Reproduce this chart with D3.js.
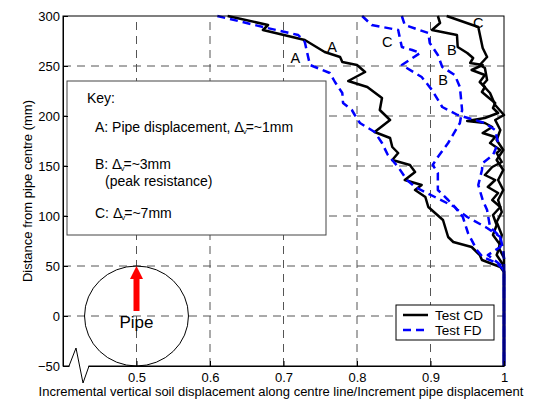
<!DOCTYPE html>
<html><head><meta charset="utf-8">
<script src="https://cdn.jsdelivr.net/npm/d3@7"></script>
<style>body{margin:0;background:#fff}svg{display:block;font-family:"Liberation Sans",Arial,sans-serif}</style>
</head><body><svg id="c" width="535" height="400"></svg>
<script>
// ---- data (x = incremental displacement ratio, y = distance from pipe centre, mm)
const xTicks = [0.5, 0.6, 0.7, 0.8, 0.9, 1];
const yTicks = [-50, 0, 50, 100, 150, 200, 250, 300];
const xGrid = [0.5, 0.6, 0.7, 0.8, 0.9];
const yGrid = [0, 50, 100, 150, 200, 250];

const cdA = [[0.624,300],[0.679,291],[0.672,286],[0.729,276],[0.756,264],[0.777,259],[0.780,254],[0.800,251],[0.811,244],[0.788,235],[0.814,229],[0.834,218],[0.831,206],[0.845,196],[0.824,184],[0.845,178],[0.848,169],[0.856,163],[0.848,156],[0.872,151],[0.879,144],[0.865,136],[0.888,131],[0.879,126],[0.893,119],[0.897,109],[0.917,96],[0.924,79],[0.931,74],[0.956,69],[0.967,61],[0.970,56],[0.995,49],[1.0,44],[1.0,-50]];
const fdA = [[0.610,300],[0.678,288],[0.720,281],[0.729,274],[0.732,264],[0.736,251],[0.763,243],[0.770,234],[0.780,223],[0.781,213],[0.793,206],[0.797,201],[0.804,193],[0.824,184],[0.834,173],[0.842,161],[0.856,149],[0.868,136],[0.879,129],[0.906,119],[0.933,109],[0.944,99],[0.951,83],[0.963,66],[0.971,59],[0.990,53],[1.0,46],[1.0,-50]];
const cdB = [[0.910,300],[0.913,293],[0.902,286],[0.936,281],[0.937,269],[0.950,263],[0.958,258],[0.954,253],[0.971,251],[0.956,246],[0.974,241],[0.967,234],[0.974,229],[0.970,224],[0.978,219],[0.988,213],[0.985,208],[0.992,203],[0.974,198],[0.950,195],[0.974,193],[0.984,189],[0.971,183],[0.988,179],[0.981,173],[0.995,166],[0.990,163],[0.997,154],[0.984,149],[0.974,141],[0.988,136],[0.978,129],[0.992,123],[0.984,116],[0.995,109],[0.985,101],[0.990,91],[0.985,81],[0.995,71],[0.990,61],[0.999,51],[1.0,44],[1.0,-50]];
const fdB = [[0.861,300],[0.865,291],[0.897,283],[0.899,273],[0.910,261],[0.916,249],[0.933,241],[0.940,229],[0.943,206],[0.940,193],[0.924,173],[0.910,159],[0.903,151],[0.910,143],[0.910,126],[0.924,116],[0.937,106],[0.950,99],[0.977,88],[0.995,79],[0.995,69],[0.978,61],[0.999,49],[1.0,44],[1.0,-50]];
const cdC = [[0.922,300],[0.965,289],[0.971,268],[0.977,259],[0.967,251],[0.974,248],[0.977,236],[0.971,231],[0.981,223],[0.988,211],[1.0,201],[0.988,196],[0.995,186],[0.990,176],[0.999,166],[0.990,156],[0.999,146],[0.992,136],[0.999,126],[0.992,116],[0.997,104],[0.990,94],[0.997,81],[0.993,68],[1.0,58],[1.0,-50]];
const fdC = [[0.807,300],[0.820,291],[0.856,286],[0.861,269],[0.875,266],[0.886,263],[0.861,251],[0.888,239],[0.902,226],[0.916,209],[0.937,201],[0.951,198],[0.974,193],[0.988,186],[0.992,173],[0.985,161],[0.971,153],[0.970,146],[0.965,131],[0.971,116],[0.977,106],[0.981,89],[0.995,79],[0.999,66],[1.0,58],[1.0,-50]];

const curveLabels = [
  {t:"A", x:0.766, y:269}, {t:"A", x:0.716, y:258},
  {t:"C", x:0.841, y:274}, {t:"B", x:0.929, y:266},
  {t:"B", x:0.917, y:236}, {t:"C", x:0.965, y:293}
];
const legendNames = ["Test CD", "Test FD"];
const keyLines = ["Key:", "A: Pipe displacement, ", "B: ", "(peak resistance)", "C: "];
const pipeCentre = [0.5, 0];
const pipeRadius = 50;         // mm
const pipeHalfWidth = 0.0707;  // in x units
const arrowFrom = 5, arrowTo = 50;

// ---- chart
const svg = d3.select("#c");
const W = 535, H = 400;
const m = {l:63, r:31, t:16, b:34};
const x = d3.scaleLinear().domain([0.4, 1]).range([m.l, W - m.r]);
const y = d3.scaleLinear().domain([-50, 300]).range([H - m.b, m.t]);
const FONT = "13px";
const KFONT = "14px";

// grid
const grid = svg.append("g").attr("stroke", "#555").attr("stroke-width", 1).attr("stroke-dasharray", "8,6");
grid.selectAll(".gx").data(xGrid).join("line").attr("x1", d => x(d)).attr("x2", d => x(d)).attr("y1", y(-50)).attr("y2", y(300));
grid.selectAll(".gy").data(yGrid).join("line").attr("y1", d => y(d)).attr("y2", d => y(d)).attr("x1", x(0.4)).attr("x2", x(1));

// pipe
svg.append("ellipse").attr("cx", x(pipeCentre[0])).attr("cy", y(pipeCentre[1]))
  .attr("rx", x(pipeCentre[0] + pipeHalfWidth) - x(pipeCentre[0]))
  .attr("ry", y(pipeCentre[1] - pipeRadius) - y(pipeCentre[1]))
  .attr("fill", "none").attr("stroke", "#000").attr("stroke-width", 1);
const ax = x(pipeCentre[0]);
svg.append("line").attr("x1", ax).attr("x2", ax).attr("y1", y(arrowFrom)).attr("y2", y(arrowTo) + 12)
  .attr("stroke", "#ff0000").attr("stroke-width", 6);
svg.append("path").attr("d", `M${ax - 6.5},${y(arrowTo) + 13} L${ax + 6.5},${y(arrowTo) + 13} L${ax},${y(arrowTo)} Z`).attr("fill", "#ff0000");
svg.append("text").attr("x", ax).attr("y", y(pipeCentre[1]) + 12).attr("text-anchor", "middle")
  .attr("font-size", "17px").text("Pipe");

// curves
const line = d3.line().x(d => x(d[0])).y(d => y(d[1]));
const cg = svg.append("g").attr("fill", "none").attr("stroke-linejoin", "round");
[cdA, cdB, cdC].forEach(s => cg.append("path").attr("d", line(s)).attr("stroke", "#000").attr("stroke-width", 2.5));
[fdA, fdB, fdC].forEach(s => cg.append("path").attr("d", line(s)).attr("stroke", "#0000ff").attr("stroke-width", 2.5).attr("stroke-dasharray", "8,5"));

svg.append("g").selectAll("text").data(curveLabels).join("text")
  .attr("x", d => x(d.x)).attr("y", d => y(d.y) + 5).attr("text-anchor", "middle")
  .attr("font-size", "14.5px").text(d => d.t);

// key box
svg.append("rect").attr("x", 67).attr("y", 81).attr("width", 259).attr("height", 154)
  .attr("fill", "#fff").attr("stroke", "#444").attr("stroke-width", 1);
const kt = svg.append("g").attr("font-size", KFONT);
kt.append("text").attr("x", 87).attr("y", 103).text(keyLines[0]);
function deltaLine(xp, yp, pre, post) {
  const t = kt.append("text").attr("x", xp).attr("y", yp);
  t.append("tspan").text(pre + "\u0394");
  t.append("tspan").attr("font-size", "8px").attr("dy", 2).attr("dx", -1).text("v");
  t.append("tspan").attr("dy", -2).attr("dx", -1).text(post);
}
deltaLine(95, 132, keyLines[1], "=~1mm");
deltaLine(95, 169, keyLines[2], "=~3mm");
kt.append("text").attr("x", 105).attr("y", 186).text(keyLines[3]);
deltaLine(95, 218, keyLines[4], "=~7mm");

// legend
const lg = svg.append("g");
lg.append("rect").attr("x", 396).attr("y", 305).attr("width", 98).attr("height", 35).attr("fill", "#fff").attr("stroke", "#000");
legendNames.forEach((n, i) => {
  const yy = 315 + i * 15;
  lg.append("line").attr("x1", 403).attr("x2", 428).attr("y1", yy).attr("y2", yy)
    .attr("stroke", i ? "#0000ff" : "#000").attr("stroke-width", 2.5).attr("stroke-dasharray", i ? "8,5" : null);
  lg.append("text").attr("x", 435).attr("y", yy + 5).attr("font-size", "13.5px").text(n);
});

// axes frame
svg.append("rect").attr("x", x(0.4)).attr("y", y(300)).attr("width", x(1) - x(0.4)).attr("height", y(-50) - y(300))
  .attr("fill", "none").attr("stroke", "#000").attr("stroke-width", 1);
const xa = svg.append("g").attr("transform", `translate(0,${y(-50)})`)
  .call(d3.axisBottom(x).tickValues(xTicks).tickSizeInner(-5).tickSizeOuter(0).tickPadding(7)
  .tickFormat(d => d === 1 ? "1" : d3.format(".1f")(d)));
const ya = svg.append("g").attr("transform", `translate(${x(0.4)},0)`)
  .call(d3.axisLeft(y).tickValues(yTicks).tickSizeInner(-5).tickSizeOuter(0).tickPadding(3));
[xa, ya].forEach(a => { a.selectAll("text").attr("font-size", FONT).attr("font-family", "Liberation Sans, Arial, sans-serif").attr("fill", "#000"); a.select(".domain").attr("stroke", "#000"); });

// axis break
const bx = x(0.4), by = y(-50);
svg.append("rect").attr("x", bx + 6.5).attr("y", by - 1.5).attr("width", 19).attr("height", 3).attr("fill", "#fff");
svg.append("polyline").attr("points", `${bx+6},${by} ${bx+13},${by-18} ${bx+20},${by+17} ${bx+26},${by}`)
  .attr("fill", "none").attr("stroke", "#000").attr("stroke-width", 1);

// axis titles
svg.append("text").attr("x", 281).attr("y", 396).attr("text-anchor", "middle").attr("font-size", FONT)
  .text("Incremental vertical soil displacement along centre line/Increment pipe displacement");
svg.append("text").attr("transform", `translate(32,${(y(-50) + y(300)) / 2}) rotate(-90)`).attr("text-anchor", "middle").attr("font-size", FONT)
  .text("Distance from pipe centre (mm)");
</script></body></html>
